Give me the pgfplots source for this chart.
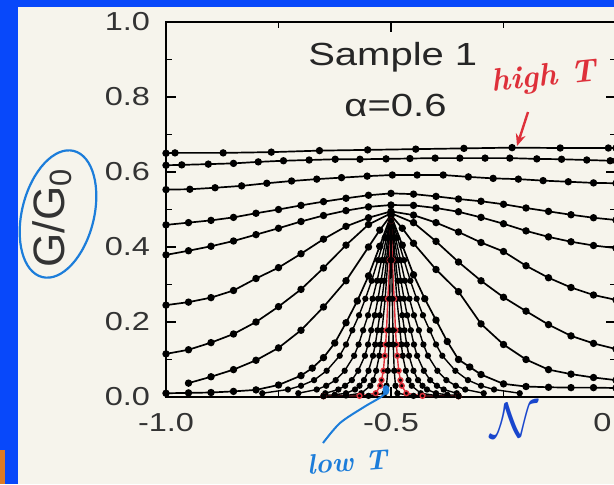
\documentclass[border=0pt]{standalone}
\usepackage{pgfplots}
\pgfplotsset{compat=1.18}
\usepackage{fontspec}
\setmainfont{Liberation Sans}[FakeStretch=1.25]
\newfontfamily\plainsans{Liberation Sans}
\newfontfamily\hand{Latin Modern Roman}
\usetikzlibrary{arrows.meta}
\definecolor{frameblue}{RGB}{8,72,250}
\definecolor{paper}{RGB}{246,244,236}
\definecolor{penred}{RGB}{222,48,58}
\definecolor{penblue}{RGB}{28,125,218}
\definecolor{inkblue}{RGB}{25,70,205}
\definecolor{frameorange}{RGB}{222,122,36}
\pgfplotsset{
  crv/.style={black, line width=0.85pt, mark=*, mark size=1.4pt, mark options={solid, fill=black}},
  thin crv/.style={black, line width=0.7pt, mark=*, mark size=1.2pt, mark options={solid, fill=black}},
}

\begin{document}
\begin{tikzpicture}
\path[use as bounding box] (0pt,0pt) rectangle (307pt,242pt);
\clip (0pt,0pt) rectangle (307pt,242pt);
\begin{scope}[x=0.5pt,y=0.5pt]
\fill[frameblue] (0,0) rectangle (614,484);
\fill[paper] (18,0) rectangle (614,477);
\fill[frameorange] (0,0) rectangle (5,34);
\end{scope}

\begin{axis}[
  at={(83pt,43.5pt)}, anchor=south west,
  scale only axis, width=225pt, height=187.5pt,
  xmin=-1, xmax=0, ymin=0, ymax=1,
  axis background/.style={fill=paper},
  axis line style={black, line width=1.1pt},
  xtick={-1,-0.5,0}, xticklabels={-1.0,-0.5,0.0},
  minor xtick={-0.75,-0.25},
  ytick={0,0.2,0.4,0.6,0.8,1}, yticklabels={0.0,0.2,0.4,0.6,0.8,1.0},
  minor ytick={0.1,0.3,0.5,0.7,0.9},
  tick align=inside, major tick length=5pt, minor tick length=3pt,
  tick style={black, line width=0.9pt},
  ticklabel style={font=\fontsize{13}{13}\selectfont, text=black!80},
  xticklabel style={yshift=-4.5pt},
  yticklabel style={xshift=-4.5pt},
]
% high temperature, nearly flat
\addplot[crv] coordinates {(-1.0,0.650) (-0.98,0.651) (-0.873,0.651) (-0.766,0.653) (-0.659,0.657) (-0.552,0.659) (-0.445,0.661) (-0.338,0.663) (-0.231,0.665) (-0.124,0.664) (-0.017,0.664) (0,0.664)};
\addplot[crv] coordinates {(-1.0,0.618) (-0.965,0.619) (-0.906,0.621) (-0.85,0.623) (-0.795,0.627) (-0.739,0.630) (-0.682,0.632) (-0.624,0.634) (-0.569,0.634) (-0.511,0.635) (-0.458,0.636) (-0.402,0.637) (-0.347,0.637) (-0.291,0.637) (-0.236,0.637) (-0.176,0.635) (-0.121,0.634) (-0.065,0.632) (-0.013,0.630) (0,0.630)};
\addplot[crv] coordinates {(-1.0,0.553) (-0.947,0.554) (-0.891,0.558) (-0.832,0.563) (-0.776,0.570) (-0.721,0.576) (-0.665,0.581) (-0.61,0.585) (-0.553,0.589) (-0.497,0.592) (-0.442,0.592) (-0.384,0.592) (-0.328,0.587) (-0.273,0.583) (-0.217,0.581) (-0.162,0.577) (-0.106,0.574) (-0.05,0.571) (0,0.570)};
\addplot[crv] coordinates {(-1,0.459) (-0.95,0.465) (-0.9,0.471) (-0.85,0.479) (-0.8,0.490) (-0.75,0.500) (-0.7,0.511) (-0.65,0.521) (-0.6,0.530) (-0.55,0.538) (-0.5,0.543) (-0.45,0.541) (-0.4,0.535) (-0.35,0.528) (-0.3,0.522) (-0.25,0.514) (-0.2,0.504) (-0.15,0.495) (-0.1,0.486) (-0.05,0.478) (0,0.472)};
\addplot[crv] coordinates {(-1,0.379) (-0.95,0.390) (-0.9,0.402) (-0.85,0.416) (-0.8,0.433) (-0.75,0.450) (-0.7,0.468) (-0.65,0.484) (-0.6,0.497) (-0.55,0.507) (-0.5,0.512) (-0.45,0.511) (-0.4,0.504) (-0.35,0.494) (-0.3,0.479) (-0.25,0.462) (-0.2,0.443) (-0.15,0.427) (-0.1,0.414) (-0.05,0.404) (0,0.397)};
\addplot[crv] coordinates {(-1,0.245) (-0.95,0.253) (-0.9,0.265) (-0.85,0.284) (-0.8,0.316) (-0.75,0.345) (-0.7,0.382) (-0.65,0.421) (-0.6,0.455) (-0.55,0.478) (-0.5,0.495) (-0.45,0.485) (-0.4,0.465) (-0.35,0.440) (-0.3,0.412) (-0.25,0.388) (-0.2,0.350) (-0.15,0.318) (-0.1,0.292) (-0.05,0.272) (0,0.259)};
\addplot[crv] coordinates {(-1,0.115) (-0.95,0.126) (-0.9,0.145) (-0.85,0.168) (-0.8,0.200) (-0.75,0.241) (-0.7,0.287) (-0.65,0.344) (-0.6,0.405) (-0.55,0.460) (-0.5,0.490) (-0.45,0.465) (-0.4,0.415) (-0.35,0.360) (-0.3,0.310) (-0.25,0.266) (-0.2,0.229) (-0.15,0.193) (-0.1,0.163) (-0.05,0.143) (0,0.128)};
\addplot[crv] coordinates {(-0.95,0.037) (-0.9,0.054) (-0.85,0.073) (-0.8,0.098) (-0.75,0.131) (-0.7,0.178) (-0.65,0.240) (-0.6,0.310) (-0.55,0.400) (-0.525,0.445) (-0.5,0.485) (-0.475,0.450) (-0.45,0.410) (-0.4,0.340) (-0.35,0.281) (-0.3,0.195) (-0.25,0.140) (-0.2,0.100) (-0.15,0.073) (-0.1,0.061) (-0.05,0.052) (0,0.045)};
\addplot[crv] coordinates {(-1,0.010) (-0.95,0.011) (-0.9,0.012) (-0.85,0.015) (-0.8,0.019) (-0.75,0.032) (-0.7,0.057) (-0.675,0.077) (-0.65,0.105) (-0.625,0.144) (-0.6,0.198) (-0.575,0.256) (-0.55,0.323) (-0.525,0.402) (-0.5,0.485) (-0.475,0.405) (-0.45,0.326) (-0.425,0.262) (-0.4,0.205) (-0.375,0.148) (-0.35,0.100) (-0.325,0.080) (-0.3,0.060) (-0.25,0.035) (-0.2,0.028) (-0.15,0.026) (-0.1,0.025) (-0.05,0.025) (0,0.024)};
% low temperature, narrowing peaks
\addplot[thin crv] coordinates {(-0.786,0.01) (-0.729,0.02) (-0.7,0.03) (-0.671,0.045) (-0.643,0.07) (-0.614,0.11) (-0.6,0.14) (-0.586,0.178) (-0.571,0.218) (-0.557,0.262) (-0.543,0.31) (-0.529,0.365) (-0.514,0.425) (-0.5,0.485) (-0.486,0.425) (-0.471,0.365) (-0.457,0.31) (-0.443,0.262) (-0.429,0.218) (-0.414,0.178) (-0.4,0.14) (-0.386,0.11) (-0.357,0.07) (-0.329,0.045) (-0.3,0.03) (-0.271,0.02) (-0.214,0.01)};
\addplot[thin crv] coordinates {(-0.706,0.01) (-0.665,0.02) (-0.644,0.03) (-0.623,0.045) (-0.603,0.07) (-0.582,0.11) (-0.572,0.14) (-0.562,0.178) (-0.551,0.218) (-0.541,0.262) (-0.531,0.31) (-0.521,0.365) (-0.510,0.425) (-0.5,0.485) (-0.490,0.425) (-0.479,0.365) (-0.469,0.31) (-0.459,0.262) (-0.449,0.218) (-0.438,0.178) (-0.428,0.14) (-0.418,0.11) (-0.397,0.07) (-0.377,0.045) (-0.356,0.03) (-0.335,0.02) (-0.294,0.01)};
\addplot[thin crv] coordinates {(-0.646,0.01) (-0.617,0.02) (-0.602,0.03) (-0.587,0.045) (-0.573,0.07) (-0.558,0.11) (-0.551,0.14) (-0.544,0.178) (-0.536,0.218) (-0.529,0.262) (-0.522,0.31) (-0.515,0.365) (-0.507,0.425) (-0.5,0.482) (-0.493,0.425) (-0.485,0.365) (-0.478,0.31) (-0.471,0.262) (-0.464,0.218) (-0.456,0.178) (-0.449,0.14) (-0.442,0.11) (-0.427,0.07) (-0.413,0.045) (-0.398,0.03) (-0.383,0.02) (-0.354,0.01)};
\addplot[thin crv] coordinates {(-0.65,0.004) (-0.625,0.006) (-0.6,0.01) (-0.58,0.02) (-0.57,0.03) (-0.56,0.045) (-0.55,0.07) (-0.54,0.11) (-0.535,0.14) (-0.53,0.178) (-0.525,0.218) (-0.52,0.262) (-0.515,0.31) (-0.51,0.365) (-0.505,0.425) (-0.5,0.478) (-0.495,0.425) (-0.49,0.365) (-0.485,0.31) (-0.48,0.262) (-0.475,0.218) (-0.47,0.178) (-0.465,0.14) (-0.46,0.11) (-0.45,0.07) (-0.44,0.045) (-0.43,0.03) (-0.42,0.02) (-0.4,0.01) (-0.375,0.006) (-0.35,0.004)};
\addplot[thin crv] coordinates {(-0.65,0.003) (-0.6,0.004) (-0.566,0.01) (-0.546,0.03) (-0.539,0.045) (-0.533,0.07) (-0.526,0.11) (-0.523,0.14) (-0.520,0.178) (-0.513,0.262) (-0.507,0.365) (-0.5,0.475) (-0.493,0.365) (-0.487,0.262) (-0.480,0.178) (-0.477,0.14) (-0.474,0.11) (-0.467,0.07) (-0.461,0.045) (-0.454,0.03) (-0.434,0.01) (-0.4,0.004) (-0.35,0.003)};
\addplot[thin crv, draw=penred] coordinates {(-0.65,0.002) (-0.57,0.003) (-0.534,0.01) (-0.524,0.03) (-0.521,0.045) (-0.517,0.07) (-0.514,0.11) (-0.512,0.14) (-0.510,0.178) (-0.507,0.262) (-0.503,0.365) (-0.5,0.47) (-0.497,0.365) (-0.493,0.262) (-0.490,0.178) (-0.488,0.14) (-0.486,0.11) (-0.483,0.07) (-0.479,0.045) (-0.476,0.03) (-0.466,0.01) (-0.43,0.003) (-0.35,0.002)};
\addplot[thin crv] coordinates {(-0.65,0.002) (-0.55,0.003) (-0.5143,0.01) (-0.51,0.03) (-0.5071,0.07) (-0.505,0.14) (-0.5043,0.178) (-0.5029,0.262) (-0.5014,0.365) (-0.5,0.47) (-0.4986,0.365) (-0.4971,0.262) (-0.4957,0.178) (-0.495,0.14) (-0.4929,0.07) (-0.49,0.03) (-0.4857,0.01) (-0.45,0.003) (-0.35,0.002)};

\node[anchor=base, text=black!85, font=\fontsize{16}{16}\selectfont] at (axis cs:-0.496,0.885) {Sample 1};
\node[anchor=base, text=black!85, font=\fontsize{16}{16}\selectfont] at (axis cs:-0.49,0.747) {α=0.6};
\end{axis}

% hand-written notes on the slide
\begin{scope}[x=0.5pt,y=0.5pt]
\node[rotate=90, text=black!80, font=\plainsans\fontsize{22}{22}\selectfont] at (52,266) {G/G\textsubscript{0}};
\draw[penblue, line width=1.1pt, rotate around={-14:(58,270)}] (58,270) ellipse (36 and 65);
\node[rotate=6, text=penred, font=\hand\itshape\bfseries\fontsize{16}{16}\selectfont] at (544,406) {high T};
\draw[penred, line width=1.2pt, -{Stealth[length=6pt,width=5pt]}] (528,372) -- (517,338);
\node[text=inkblue] at (515,64) {\fontsize{24}{24}\selectfont$\mathcal{N}$};
\node[rotate=4, text=penblue, font=\hand\itshape\bfseries\fontsize{14}{14}\selectfont] at (347,22) {low T};
\draw[penblue, line width=1pt] plot[smooth] coordinates {(323,41) (340,61) (364,77) (381,87) (387,93)};
\fill[penblue] (386,94) ellipse (3.5 and 5);
\end{scope}
\end{tikzpicture}
\end{document}
